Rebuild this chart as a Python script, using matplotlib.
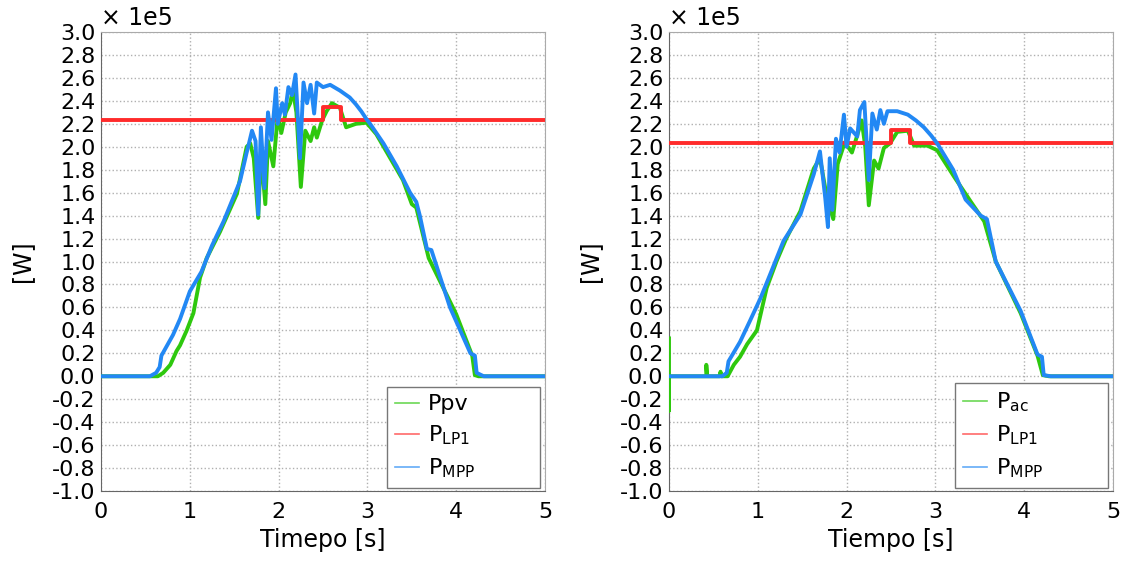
import numpy as np
import matplotlib.pyplot as plt

plt.rcParams['font.family'] = ['DejaVu Sans']
plt.rcParams['axes.unicode_minus'] = False

# values in units of 1e5 W
# left panel
t_mpp_1 = [0, 0.55, 0.62, 0.66, 0.68, 0.81, 0.89, 1.0, 1.13, 1.25, 1.38, 1.565, 1.64, 1.66,
           1.70, 1.74, 1.77, 1.80, 1.84, 1.88, 1.92, 1.97, 1.99, 2.04, 2.07, 2.11, 2.15, 2.19,
           2.21, 2.24, 2.28, 2.32, 2.36, 2.40, 2.43, 2.50, 2.58, 2.69, 2.80, 2.87, 2.93, 2.99,
           3.03, 3.18, 3.33, 3.48, 3.55, 3.59, 3.67, 3.72, 3.93, 4.16, 4.21, 4.23, 4.31, 5.0]
p_mpp_1 = [0, 0, 0.03, 0.08, 0.18, 0.36, 0.50, 0.74, 0.91, 1.14, 1.35, 1.70, 1.95, 2.01,
           2.14, 2.05, 1.41, 2.17, 1.64, 2.30, 2.06, 2.51, 2.20, 2.38, 2.28, 2.52, 2.45, 2.63,
           2.35, 1.90, 2.56, 2.38, 2.54, 2.29, 2.56, 2.52, 2.54, 2.49, 2.43, 2.37, 2.31, 2.24,
           2.20, 2.03, 1.83, 1.60, 1.52, 1.40, 1.11, 1.10, 0.60, 0.20, 0.18, 0.03, 0.0, 0.0]

t_pv = [0, 0.64, 0.70, 0.78, 0.85, 0.89, 0.965, 1.04, 1.115, 1.19, 1.34, 1.53, 1.64, 1.68,
        1.72, 1.77, 1.80, 1.85, 1.88, 1.94, 1.99, 2.03, 2.08, 2.13, 2.16, 2.20, 2.25, 2.30,
        2.36, 2.40, 2.43, 2.49, 2.54, 2.60, 2.69, 2.76, 2.87, 2.99, 3.10, 3.25, 3.40, 3.50,
        3.55, 3.69, 4.0, 4.18, 4.21, 4.25, 5.0]
p_pv = [0, 0, 0.03, 0.10, 0.22, 0.27, 0.40, 0.55, 0.86, 1.03, 1.26, 1.59, 2.0, 2.03,
        1.90, 1.38, 1.95, 1.50, 2.05, 1.83, 2.27, 2.12, 2.30, 2.38, 2.50, 2.30, 1.65, 2.14,
        2.05, 2.17, 2.08, 2.23, 2.31, 2.38, 2.34, 2.17, 2.20, 2.21, 2.11, 1.91, 1.71, 1.50,
        1.47, 1.03, 0.54, 0.18, 0.01, 0.0, 0.0]

t_lp1_1 = [0, 2.50, 2.70, 5.0]
p_lp1_1 = [2.23, 2.35, 2.23, 2.23]

# right panel
t_mpp_2 = [0, 0.60, 0.65, 0.67, 0.80, 0.91, 1.03, 1.14, 1.29, 1.48, 1.63, 1.70, 1.76, 1.79,
           1.81, 1.84, 1.88, 1.92, 1.97, 2.00, 2.04, 2.12, 2.15, 2.20, 2.25, 2.29, 2.34, 2.38,
           2.42, 2.46, 2.57, 2.69, 2.78, 2.87, 2.95, 3.02, 3.20, 3.34, 3.51, 3.58, 3.68, 3.81,
           3.96, 4.15, 4.20, 4.22, 4.30, 5.0]
p_mpp_2 = [0, 0, 0.03, 0.13, 0.30, 0.48, 0.68, 0.89, 1.18, 1.41, 1.76, 1.96, 1.55, 1.30,
           1.90, 1.45, 2.07, 1.95, 2.28, 2.00, 2.16, 2.09, 2.32, 2.39, 1.71, 2.29, 2.15, 2.32,
           2.20, 2.31, 2.31, 2.28, 2.23, 2.17, 2.10, 2.03, 1.80, 1.54, 1.40, 1.37, 1.00, 0.80,
           0.57, 0.19, 0.17, 0.01, 0.0, 0.0]

t_ac = [0, 0, 0, 0.42, 0.42, 0.43, 0.57, 0.58, 0.59, 0.66, 0.73, 0.80, 0.88, 0.99, 1.10,
        1.21, 1.32, 1.48, 1.63, 1.70, 1.78, 1.85, 1.90, 1.98, 2.06, 2.12, 2.17, 2.21, 2.25,
        2.31, 2.36, 2.42, 2.49, 2.57, 2.69, 2.76, 2.91, 3.02, 3.21, 3.40, 3.55, 3.68, 3.96,
        4.15, 4.21, 4.28, 5.0]
p_ac = [0.33, -0.30, 0, 0, 0.10, 0, 0, 0.04, 0, 0, 0.10, 0.17, 0.28, 0.40, 0.77,
        1.0, 1.20, 1.44, 1.81, 1.90, 1.55, 1.37, 1.85, 2.04, 1.95, 2.10, 2.23, 2.00, 1.49,
        1.88, 1.81, 1.99, 2.03, 2.13, 2.14, 2.01, 2.01, 1.97, 1.74, 1.52, 1.35, 1.00, 0.55,
        0.18, 0.01, 0.0, 0.0]

t_lp1_2 = [0, 2.50, 2.71, 5.0]
p_lp1_2 = [2.035, 2.145, 2.035, 2.035]

y_ticks = [round(-1.0 + 0.2 * i, 1) for i in range(21)]

panels = [
    (t_pv, p_pv, 'Ppv', t_lp1_1, p_lp1_1, t_mpp_1, p_mpp_1, 'Timepo [s]'),
    (t_ac, p_ac, r'$\mathregular{P_{ac}}$', t_lp1_2, p_lp1_2, t_mpp_2, p_mpp_2, 'Tiempo [s]'),
]

green = '#2ec80e'
red = '#ff2b2b'
blue = '#2288f4'

fig = plt.figure(figsize=(11.24, 5.67), dpi=100)
lefts = [0.0899, 0.5952]
for left, (tg, pg, glab, tr, pr, tb, pb, xlab) in zip(lefts, panels):
    ax = fig.add_axes([left, 0.134, 0.395, 0.8095])
    ax.plot(tg, pg, color=green, lw=2.8, label=glab, zorder=3)
    ax.plot(tr, pr, color=red, lw=2.8, drawstyle='steps-post',
            label=r'$\mathregular{P_{LP1}}$', zorder=4)
    ax.plot(tb, pb, color=blue, lw=2.8, label=r'$\mathregular{P_{MPP}}$', zorder=5)

    ax.set_xlim(0, 5)
    ax.set_ylim(-1.0, 3.0)
    ax.set_xticks(range(6))
    ax.set_yticks(y_ticks)
    ax.set_yticklabels(['%.1f' % (v + 0.0) if abs(v) > 1e-9 else '0.0' for v in y_ticks])
    ax.tick_params(labelsize=16, length=0)
    ax.tick_params(axis='y', pad=4)
    ax.tick_params(axis='x', pad=8)
    ax.grid(True, color='#b0b0b0', linestyle=':', linewidth=1)
    for s in ['left', 'bottom']:
        ax.spines[s].set_color('#666666')
    for s in ['top', 'right']:
        ax.spines[s].set_color('#aaaaaa')
    ax.set_xlabel(xlab, fontsize=17, labelpad=4)
    ax.set_ylabel('[W]', fontsize=17, labelpad=13)
    ax.text(0.0, 1.005, '× 1e5', transform=ax.transAxes, fontsize=17,
            ha='left', va='bottom')

    leg = ax.legend(loc='lower left', bbox_to_anchor=(0.644, 0.0065, 0.345, 0.22),
                    mode='expand', borderaxespad=0, fontsize=16, fancybox=False,
                    framealpha=1, edgecolor='#777777', handlelength=1.1,
                    handletextpad=0.4, labelspacing=0.42, borderpad=0.35)
    for line in leg.get_lines():
        line.set_linewidth(1.2)
        line.set_alpha(0.7)
    leg.get_frame().set_linewidth(1)
    leg.set_zorder(10)

fig.savefig('out.png', dpi=100)
